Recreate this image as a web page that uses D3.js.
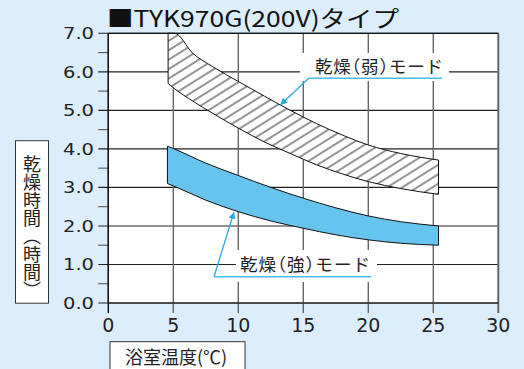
<!DOCTYPE html>
<html>
<head>
<meta charset="utf-8">
<script src="https://cdn.jsdelivr.net/npm/d3@7"></script>
<style>
  html, body { margin: 0; padding: 0; background: #dcedfb; }
  svg { display: block; }
</style>
</head>
<body>
<div id="chart"></div>
<script>
// values
var tempTicks = [0, 5, 10, 15, 20, 25, 30];
var hourTicks = [0, 1, 2, 3, 4, 5, 6, 7];
var minorHourTicks = [0.5, 1.5, 2.5, 3.5, 4.5, 5.5, 6.5];

var weakTemp  = [4.6, 5.1, 6.5, 8, 10, 12, 14, 16, 18, 20, 22.5, 25.4];
var weakUpper = [7.0, 7.0, 6.48, 6.14, 5.75, 5.37, 5.0, 4.66, 4.36, 4.10, 3.88, 3.71];
var weakLower = [5.70, 5.56, 5.24, 4.93, 4.54, 4.18, 3.88, 3.59, 3.35, 3.15, 2.97, 2.82];

var strongTemp  = [4.55, 5.0, 7.5, 10, 12.5, 15, 17.5, 20, 22.5, 25.4];
var strongUpper = [4.07, 4.01, 3.63, 3.31, 3.00, 2.72, 2.47, 2.26, 2.11, 2.0];
var strongLower = [3.10, 3.04, 2.67, 2.37, 2.13, 1.94, 1.77, 1.64, 1.55, 1.50];

var titleText = "■TYK970G(200V)タイプ";
var weakLabel = "乾燥（弱）モード";
var strongLabel = "乾燥（強）モード";
var yTitle = "乾燥時間（時間）";
var xTitle = "浴室温度(℃)";

var W = 524, H = 369;
var jp = "'Noto Sans CJK JP', 'Noto Sans', sans-serif";
var num = "'DejaVu Sans', sans-serif";

var svg = d3.select("#chart").append("svg")
    .attr("width", W)
    .attr("height", H);

var x = d3.scaleLinear().domain([0, 30]).range([108.3, 498.3]);
var y = d3.scaleLinear().domain([0, 7]).range([303, 33.3]);

svg.append("rect").attr("width", W).attr("height", H).attr("fill", "#dcedfb");

var defs = svg.append("defs");
var hatch = defs.append("pattern")
    .attr("id", "hatch")
    .attr("patternUnits", "userSpaceOnUse")
    .attr("width", 20)
    .attr("height", 8)
    .attr("patternTransform", "rotate(-32)");
hatch.append("rect").attr("width", 20).attr("height", 8).attr("fill", "#fff");
hatch.append("line")
    .attr("x1", 0).attr("x2", 20).attr("y1", 4).attr("y2", 4)
    .attr("stroke", "#111").attr("stroke-width", 0.9);

defs.append("marker")
    .attr("id", "arrow")
    .attr("viewBox", "0 0 10 10")
    .attr("refX", 10).attr("refY", 5)
    .attr("markerWidth", 7).attr("markerHeight", 7)
    .attr("markerUnits", "userSpaceOnUse")
    .attr("orient", "auto")
    .append("path")
    .attr("d", "M0,0 L10,5 L0,10 z")
    .attr("fill", "#2aaae2");

// plot area
svg.append("rect")
    .attr("x", x(0)).attr("y", y(7))
    .attr("width", x(30) - x(0)).attr("height", y(0) - y(7))
    .attr("fill", "#fff");

// horizontal grid + major ticks
svg.append("g").selectAll("line")
    .data(hourTicks)
    .enter().append("line")
    .attr("x1", x(0) - 10).attr("x2", x(30))
    .attr("y1", function (d) { return y(d); })
    .attr("y2", function (d) { return y(d); })
    .attr("stroke", "#222")
    .attr("stroke-width", 1.1);

// minor ticks
svg.append("g").selectAll("line")
    .data(minorHourTicks)
    .enter().append("line")
    .attr("x1", x(0) - 10).attr("x2", x(0))
    .attr("y1", function (d) { return y(d); })
    .attr("y2", function (d) { return y(d); })
    .attr("stroke", "#555")
    .attr("stroke-width", 1.1);

// vertical grid + ticks
svg.append("g").selectAll("line")
    .data(tempTicks)
    .enter().append("line")
    .attr("x1", function (d) { return x(d); })
    .attr("x2", function (d) { return x(d); })
    .attr("y1", y(7)).attr("y2", y(0) + 10)
    .attr("stroke", function (d) { return d === 0 ? "#111" : "#666"; })
    .attr("stroke-width", function (d) { return d === 30 ? 2 : 1.4; });

// bottom and left axis lines
svg.append("line")
    .attr("x1", x(0)).attr("x2", x(30))
    .attr("y1", y(0)).attr("y2", y(0))
    .attr("stroke", "#111").attr("stroke-width", 1.2);
svg.append("line")
    .attr("x1", x(0)).attr("x2", x(0))
    .attr("y1", y(7)).attr("y2", y(0))
    .attr("stroke", "#111").attr("stroke-width", 1.2);

function band(temps, lower, upper, fill) {
    var pts = temps.map(function (t, i) { return [t, lower[i], upper[i]]; });
    var area = d3.area()
        .x(function (d) { return x(d[0]); })
        .y0(function (d) { return y(d[1]); })
        .y1(function (d) { return y(d[2]); })
        .curve(d3.curveMonotoneX);
    svg.append("path")
        .datum(pts)
        .attr("d", function (d) { return area(d) + "Z"; })
        .attr("fill", fill)
        .attr("stroke", "#111")
        .attr("stroke-width", 1)
        .attr("stroke-linejoin", "round");
}
band(weakTemp, weakLower, weakUpper, "url(#hatch)");
band(strongTemp, strongLower, strongUpper, "#66c4ef");

// top border drawn over the hatch
svg.append("line")
    .attr("x1", x(0)).attr("x2", x(30))
    .attr("y1", y(7)).attr("y2", y(7))
    .attr("stroke", "#111").attr("stroke-width", 1.2);

// y tick labels
svg.append("g").selectAll("text")
    .data(hourTicks)
    .enter().append("text")
    .attr("x", 94)
    .attr("y", function (d) { return y(d) + 5.8; })
    .attr("text-anchor", "end")
    .attr("font-family", num)
    .attr("font-size", 15.5)
    .attr("textLength", 31)
    .attr("lengthAdjust", "spacingAndGlyphs")
    .attr("fill", "#222")
    .text(function (d) { return d3.format(".1f")(d); });

// x tick labels
svg.append("g").selectAll("text")
    .data(tempTicks)
    .enter().append("text")
    .attr("x", function (d) { return x(d); })
    .attr("y", 332)
    .attr("text-anchor", "middle")
    .attr("font-family", num)
    .attr("font-size", 19)
    .attr("fill", "#222")
    .text(function (d) { return d; });

// title
svg.append("text")
    .attr("x", 107)
    .attr("y", 27)
    .attr("font-family", jp)
    .attr("font-size", 22.5)
    .attr("textLength", 292)
    .attr("lengthAdjust", "spacingAndGlyphs")
    .attr("fill", "#111")
    .text(titleText);

// axis title boxes
svg.append("rect")
    .attr("x", 15.5).attr("y", 140.7).attr("width", 33).attr("height", 162.5)
    .attr("fill", "#fff").attr("stroke", "#333").attr("stroke-width", 1);
svg.append("text")
    .attr("x", 32).attr("y", 155)
    .attr("font-family", jp)
    .attr("font-size", 18)
    .attr("fill", "#222")
    .style("writing-mode", "vertical-rl")
    .text(yTitle);

svg.append("rect")
    .attr("x", 110).attr("y", 341.7).attr("width", 135).attr("height", 40)
    .attr("fill", "#fff").attr("stroke", "#333").attr("stroke-width", 1);
svg.append("text")
    .attr("x", 125).attr("y", 364)
    .attr("font-family", jp)
    .attr("font-size", 18)
    .attr("fill", "#222")
    .text(xTitle);

// callouts
function callout(box, textX, textY, textLen, label, line, tip) {
    svg.append("rect")
        .attr("x", box[0]).attr("y", box[1]).attr("width", box[2]).attr("height", box[3])
        .attr("fill", "#fff");
    svg.append("text")
        .attr("x", textX).attr("y", textY)
        .attr("font-family", jp)
        .attr("font-size", 17.5)
        .attr("textLength", textLen)
        .attr("lengthAdjust", "spacing")
        .style("font-feature-settings", "'halt'")
        .attr("fill", "#222")
        .text(label);
    svg.append("line")
        .attr("x1", line[0]).attr("x2", line[1])
        .attr("y1", line[2]).attr("y2", line[2])
        .attr("stroke", "#45bdee").attr("stroke-width", 1.6);
    svg.append("line")
        .attr("x1", line[0]).attr("y1", line[2])
        .attr("x2", tip[0]).attr("y2", tip[1])
        .attr("stroke", "#2aaae2").attr("stroke-width", 1.3)
        .attr("marker-end", "url(#arrow)");
}
callout([300, 53, 149, 28], 315, 73, 128, weakLabel, [308.7, 442, 78.3], [280.3, 105]);
callout([236, 250, 141, 32], 240, 271, 130, strongLabel, [214, 371, 276.7], [234, 212]);
</script>
</body>
</html>
